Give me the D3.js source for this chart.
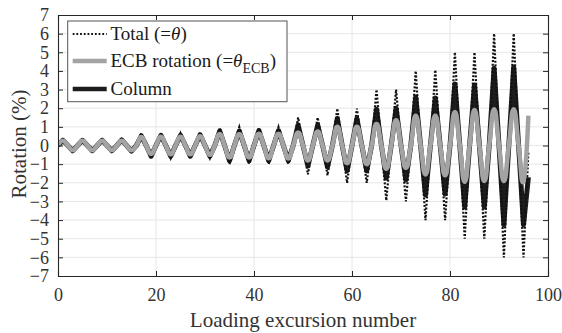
<!DOCTYPE html>
<html>
<head>
<meta charset="utf-8">
<script src="https://cdn.jsdelivr.net/npm/d3@7"></script>
<style>
  html, body { margin: 0; padding: 0; background: #fff; }
  svg { display: block; }
  svg text { font-family: 'Liberation Serif', 'DejaVu Serif', serif !important; }
</style>
</head>
<body>
<svg id="chart" width="562" height="333"></svg>
<script>
// ---------------- data ----------------
const xTicks = [0, 20, 40, 60, 80, 100];
const yTicks = [-7, -6, -5, -4, -3, -2, -1, 0, 1, 2, 3, 4, 5, 6, 7];

// one entry per loading cycle (peak at excursion 4i+1, trough at 4i+3)
const totalPeaks    = [0.33, 0.33, 0.33, 0.33, 0.65, 0.65, 0.66, 0.66, 0.95, 0.98, 0.95, 0.98, 1.5, 1.5, 1.98, 1.98, 3.0, 3.0, 4.0, 4.05, 5.0, 5.0, 6.0, 6.0];
const totalTroughs  = [-0.33, -0.33, -0.33, -0.33, -0.68, -0.68, -0.68, -0.68, -1.0, -1.0, -1.0, -1.0, -1.55, -1.6, -2.0, -2.0, -2.95, -3.0, -4.0, -4.0, -5.0, -5.0, -6.0, -6.0];
const columnPeaks   = [0.28, 0.28, 0.28, 0.3, 0.52, 0.55, 0.55, 0.58, 0.78, 0.78, 0.8, 0.8, 1.1, 1.1, 1.45, 1.45, 1.95, 2.0, 2.6, 2.55, 3.3, 3.25, 4.15, 4.2];
const columnTroughs = [-0.28, -0.28, -0.28, -0.3, -0.57, -0.57, -0.57, -0.57, -0.82, -0.82, -0.82, -0.82, -1.1, -1.15, -1.35, -1.35, -1.75, -1.85, -2.65, -2.6, -3.3, -3.3, -4.25, -4.25];
const ecbPeaks      = [0.25, 0.25, 0.25, 0.25, 0.45, 0.47, 0.47, 0.5, 0.62, 0.62, 0.63, 0.63, 0.7, 0.75, 1.0, 1.0, 1.15, 1.35, 1.6, 1.6, 1.8, 1.9, 1.95, 1.95];
const ecbTroughs    = [-0.25, -0.25, -0.25, -0.25, -0.45, -0.47, -0.47, -0.5, -0.65, -0.65, -0.68, -0.7, -0.8, -0.8, -0.95, -1.0, -1.25, -1.2, -1.55, -1.6, -1.95, -1.9, -1.9, -1.9];
// final sample at excursion 96
const totalEnd = -0.3, columnEnd = -1.7, ecbEnd = 1.6;

const legendLabels = ["Total (=", "ECB rotation (=", "Column"];

// ---------------- build point lists ----------------
function buildSeries(peaks, troughs, endVal) {
  const pts = [];
  peaks.forEach((p, i) => {
    pts.push([4 * i, 0]);
    pts.push([4 * i + 1, p]);
    pts.push([4 * i + 2, 0]);
    pts.push([4 * i + 3, troughs[i]]);
  });
  pts.push([4 * peaks.length, endVal]);
  return pts;
}
const totalData  = buildSeries(totalPeaks, totalTroughs, totalEnd);
const columnData = buildSeries(columnPeaks, columnTroughs, columnEnd);
const ecbData    = buildSeries(ecbPeaks, ecbTroughs, ecbEnd);

// ---------------- layout ----------------
const FONT = "'Liberation Serif', 'DejaVu Serif', serif";
const svg = d3.select("#chart").attr("font-family", FONT);
const L = 58, R = 548, T = 15, B = 276;
const x = d3.scaleLinear().domain([0, 100]).range([L, R]);
const y = d3.scaleLinear().domain([-7, 7]).range([B, T]);
const axisCol = "#262626";

svg.append("rect").attr("x", 0).attr("y", 0).attr("width", 562).attr("height", 333).attr("fill", "#fff");

// grid
const grid = svg.append("g");
grid.selectAll("line.gy").data(yTicks.filter(v => v > -7 && v < 7)).enter().append("line")
  .attr("x1", L).attr("x2", R).attr("y1", d => y(d)).attr("y2", d => y(d))
  .attr("stroke", "#e6e6e6").attr("stroke-width", 1);
grid.selectAll("line.gx").data(xTicks.filter(v => v > 0 && v < 100)).enter().append("line")
  .attr("y1", T).attr("y2", B).attr("x1", d => x(d)).attr("x2", d => x(d))
  .attr("stroke", "#e6e6e6").attr("stroke-width", 1);

// series
svg.append("clipPath").attr("id", "clip").append("rect")
  .attr("x", L).attr("y", T).attr("width", R - L).attr("height", B - T);
const plot = svg.append("g").attr("clip-path", "url(#clip)");

const lineLin = d3.line().x(d => x(d[0])).y(d => y(d[1]));
const lineSmooth = d3.line().x(d => x(d[0])).y(d => y(d[1])).curve(d3.curveCardinal.tension(-0.5));

plot.append("path").datum(columnData).attr("d", lineLin)
  .attr("fill", "none").attr("stroke", "#1c1c1c").attr("stroke-width", 5)
  .attr("stroke-linejoin", "round");
plot.append("path").datum(totalData).attr("d", lineLin)
  .attr("fill", "none").attr("stroke", "#111").attr("stroke-width", 2.2)
  .attr("stroke-dasharray", "2,1.7");
plot.append("path").datum(ecbData).attr("d", lineSmooth)
  .attr("fill", "none").attr("stroke", "#a3a3a3").attr("stroke-width", 4.5)
  .attr("stroke-linejoin", "round");

// axes (box with inward ticks)
const axB = d3.axisBottom(x).tickValues(xTicks).tickSize(-5).tickPadding(12);
const axT = d3.axisTop(x).tickValues(xTicks).tickSize(-5).tickFormat("");
const axLft = d3.axisLeft(y).tickValues(yTicks).tickSize(-5).tickPadding(9);
const axRgt = d3.axisRight(y).tickValues(yTicks).tickSize(-5).tickFormat("");

function styleAxis(g) {
  g.attr("font-family", FONT).attr("font-size", 18);
  g.selectAll("path").attr("stroke", axisCol).attr("stroke-width", 1.1);
  g.selectAll("line").attr("stroke", axisCol).attr("stroke-width", 1);
  g.selectAll("text").attr("fill", "#333").attr("font-size", 18);
}
svg.append("g").attr("transform", `translate(0,${B})`).call(axB).call(styleAxis);
svg.append("g").attr("transform", `translate(0,${T})`).call(axT).call(styleAxis);
svg.append("g").attr("transform", `translate(${L},0)`).call(axLft).call(styleAxis);
svg.append("g").attr("transform", `translate(${R},0)`).call(axRgt).call(styleAxis);

// axis labels
svg.append("text").attr("x", (L + R) / 2).attr("y", 327).attr("text-anchor", "middle")
  .attr("fill", "#333").attr("font-size", 21).text("Loading excursion number");
svg.append("text").attr("transform", "translate(26,144) rotate(-90)").attr("text-anchor", "middle")
  .attr("fill", "#333").attr("font-size", 21).text("Rotation (%)");

// legend
const lg = svg.append("g");
lg.append("rect").attr("x", 67.7).attr("y", 21).attr("width", 219.3).attr("height", 80.7)
  .attr("fill", "#fff").attr("stroke", "#555").attr("stroke-width", 1);
const rows = [34, 61, 89];
const styles = [
  { stroke: "#111", width: 2, dash: "1.8,1.9" },
  { stroke: "#a3a3a3", width: 4.5, dash: null },
  { stroke: "#1c1c1c", width: 4.5, dash: null }
];
rows.forEach((ry, i) => {
  const ln = lg.append("line").attr("x1", 72.7).attr("x2", 106.7).attr("y1", ry).attr("y2", ry)
    .attr("stroke", styles[i].stroke).attr("stroke-width", styles[i].width);
  if (styles[i].dash) ln.attr("stroke-dasharray", styles[i].dash);
  const t = lg.append("text").attr("x", 110.5).attr("y", ry + 6).attr("fill", "#1a1a1a")
    .attr("font-size", 19);
  t.append("tspan").text(legendLabels[i]);
  if (i === 0) {
    t.append("tspan").attr("font-style", "italic").text("θ");
    t.append("tspan").text(")");
  } else if (i === 1) {
    t.append("tspan").attr("font-style", "italic").text("θ");
    t.append("tspan").attr("dy", 6).attr("font-size", 14).text("ECB");
    t.append("tspan").attr("dy", -6).text(")");
  }
});
</script>
</body>
</html>
